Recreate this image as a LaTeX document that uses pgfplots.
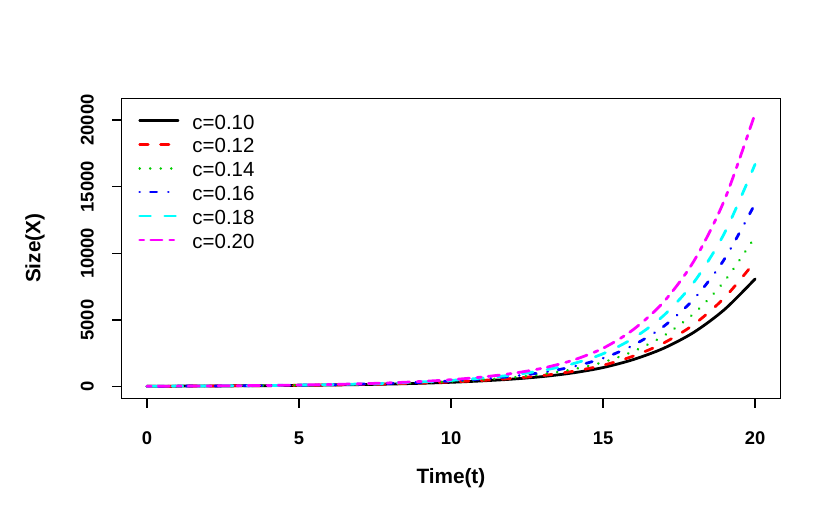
\documentclass[border=0pt]{standalone}
\usepackage{fontspec}
\setmainfont{Liberation Sans}
\usepackage{pgfplots}
\pgfplotsset{compat=1.18}
\usepackage{pgfplotstable}
\definecolor{rgreen}{RGB}{0,205,0}
\definecolor{rcyan}{RGB}{0,255,255}
\definecolor{rmagenta}{RGB}{255,0,255}
\definecolor{rred}{RGB}{255,0,0}
\definecolor{rblue}{RGB}{0,0,255}

\pgfplotstableread{
t    c10   c12   c14   c16   c18   c20
0    36    36    36    36    36    36
1    43    43    44    44    45    45
2    53    54    55    56    57    58
3    65    66    68    70    72    75
4    80    82    85    89    92    96
5    100   104   109   114   120   126
6    125   131   138   147   155   165
7    158   167   177   190   204   219
8    200   212   228   247   267   290
9    257   275   298   326   356   391
10   330   356   389   430   474   525
11   433   470   519   580   645   722
12   567   620   691   779   876   991
13   757   835   938   1069  1213  1386
14   1033  1147  1301  1497  1716  1981
15   1436  1607  1839  2138  2473  2885
16   2040  2300  2656  3118  3643  4294
17   2890  3283  3826  4536  5352  6373
18   4100  4692  5518  6608  7872  9471
19   5800  6688  7936  9599  11548 14037
20   8080  9387  11239 13727 16681 20486
}\data

\begin{document}
\begin{tikzpicture}
\path[use as bounding box] (0,0) rectangle (8.3in,-5.2in);
\begin{axis}[
  at={(1.215in,-3.983in)}, anchor=south west,
  width=6.588in, height=3.0in, scale only axis,
  xmin=-0.839, xmax=20.83, ymin=-870, ymax=21630,
  xtick={0,5,10,15,20}, ytick={0,5000,10000,15000,20000},
  scaled y ticks=false, scaled x ticks=false,
  tick align=outside, major tick length=0.1in,
  xtick pos=left, ytick pos=left,
  tick style={draw=black, line width=0.9pt},
  line width=0.9pt,
  /pgf/number format/1000 sep={},
  /pgf/number format/assume math mode=true,
  ticklabel style={font=\bfseries\fontsize{13.3}{15}\selectfont, inner sep=0pt},
  xticklabel shift=0.23in, yticklabel shift=0.17in,
  xticklabel style={anchor=north},
  yticklabel style={rotate=90, anchor=south},
  xlabel={Time(t)}, ylabel={Size(X)},
  label style={font=\bfseries\fontsize{15}{18}\selectfont, inner sep=0pt},
  xlabel style={at={(axis description cs:0.5,-0.2657)}, anchor=center},
  ylabel style={at={(axis description cs:-0.1313,0.5)}, anchor=center},
  legend cell align=left,
  legend style={draw=none, fill=none, at={(axis description cs:0.0255,0.962)}, anchor=north west,
    inner sep=0pt, outer sep=0pt, row sep=0pt, column sep=0.13in,
    font=\fontsize{14.8}{17}\selectfont,
    nodes={inner sep=0pt, text height=13.95pt, text depth=3.35pt}},
  legend image code/.code={\path (0pt,0pt); \draw[#1] (0pt,1.0pt) -- (0.384in,1.0pt);},
]
\addplot[black, line width=2pt, line cap=round, smooth] table[x=t,y=c10] {\data};
\addplot[rred, line width=2pt, line cap=round, smooth, dash pattern=on 6.1pt off 9.0pt] table[x=t,y=c12] {\data};
\addplot[rgreen, line width=2pt, line cap=round, smooth, dash pattern=on 0.01pt off 7.6pt] table[x=t,y=c14] {\data};
\addplot[rblue, line width=2pt, line cap=round, smooth, dash pattern=on 0.01pt off 7.7pt on 4.6pt off 8.4pt] table[x=t,y=c16] {\data};
\addplot[rcyan, line width=2pt, line cap=round, smooth, dash pattern=on 7.8pt off 10.3pt] table[x=t,y=c18] {\data};
\addplot[rmagenta, line width=2pt, line cap=round, smooth, dash pattern=on 3.0pt off 5.0pt on 8.2pt off 5.5pt] table[x=t,y=c20] {\data};
\legend{c=0.10,c=0.12,c=0.14,c=0.16,c=0.18,c=0.20}
\end{axis}
% helper axis below the plot: its upward ticks form the x tick marks
\begin{axis}[
  at={(1.215in,-4.083in)}, anchor=north west,
  width=6.588in, height=0.05in, scale only axis,
  xmin=-0.839, xmax=20.83, ymin=0, ymax=1,
  xtick={0,5,10,15,20}, xticklabels={}, ytick=\empty,
  xtick pos=right, tick align=outside, major tick length=0.1in,
  scaled x ticks=false, scaled y ticks=false,
  tick style={draw=black, line width=0.9pt},
  axis line style={white}, line width=0.9pt,
]
\end{axis}
% helper axis left of the plot: its rightward ticks form the y tick marks
\begin{axis}[
  at={(1.115in,-3.983in)}, anchor=south east,
  width=0.05in, height=3.0in, scale only axis,
  xmin=0, xmax=1, ymin=-870, ymax=21630,
  ytick={0,5000,10000,15000,20000}, yticklabels={}, xtick=\empty,
  ytick pos=right, tick align=outside, major tick length=0.1in,
  scaled x ticks=false, scaled y ticks=false,
  tick style={draw=black, line width=0.9pt},
  axis line style={white}, line width=0.9pt,
]
\end{axis}
\end{tikzpicture}
\end{document}
